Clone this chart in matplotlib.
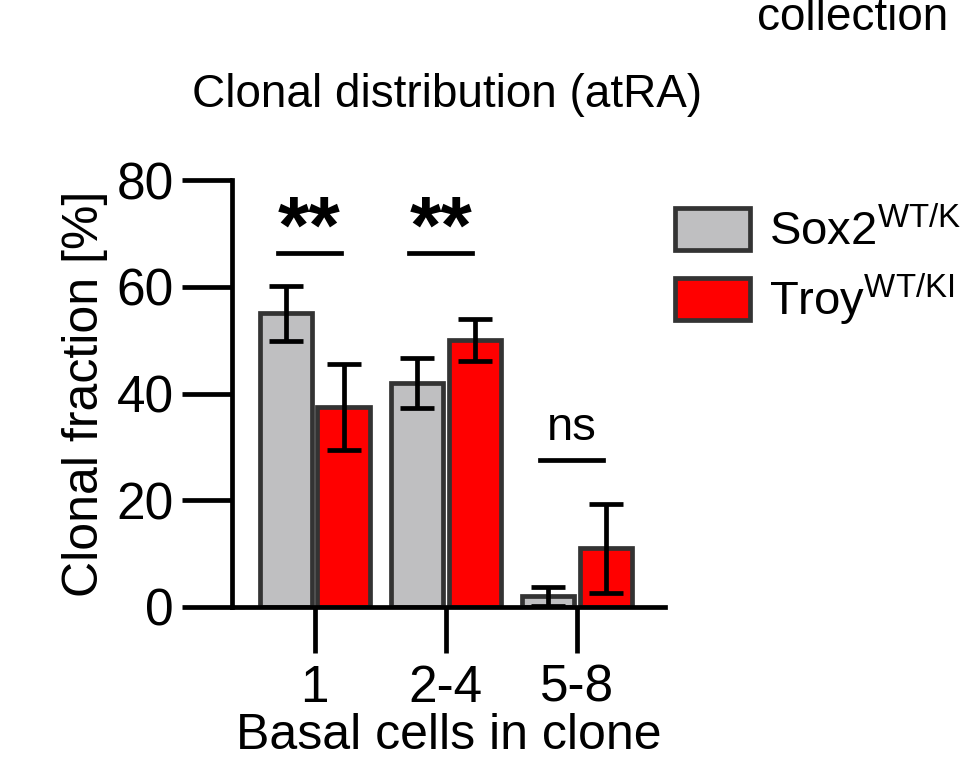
import matplotlib
matplotlib.use("Agg")
from matplotlib import pyplot as plt
import numpy as np

plt.rcParams["font.family"] = "Liberation Sans"

categories = ["1", "2-4", "5-8"]
sox2_mean = [55, 42, 2]
sox2_err = [5.2, 4.7, 1.8]
troy_mean = [37.5, 50, 11]
troy_err = [8, 4, 8.3]
sig_labels = ["**", "**", "ns"]
sig_y = [66.3, 66.3, 27.5]

fig = plt.figure(figsize=(9.6, 7.79), dpi=100)
ax = fig.add_axes([232 / 960, 1 - 607 / 779, (665 - 232) / 960, 427 / 779])

x = np.arange(len(categories))
w = 0.4
off = 0.22
lw = 3.4
ax.bar(x - off, sox2_mean, w, color="#bfbfc1", edgecolor="#333333", linewidth=lw,
       label="Sox2$^{\\mathregular{WT/KI}}$", zorder=2)
ax.bar(x + off, troy_mean, w, color="#ff0000", edgecolor="#333333", linewidth=lw,
       label="Troy$^{\\mathregular{WT/KI}}$", zorder=2)
ax.errorbar(x - off, sox2_mean, yerr=sox2_err, fmt="none", ecolor="black",
            elinewidth=lw, capsize=12, capthick=lw, zorder=3)
ax.errorbar(x + off, troy_mean, yerr=troy_err, fmt="none", ecolor="black",
            elinewidth=lw, capsize=12, capthick=lw, zorder=3)

for i, (lab, y) in enumerate(zip(sig_labels, sig_y)):
    ax.plot([x[i] - 0.28, x[i] + 0.2], [y, y], color="black", lw=lw)
    if lab == "ns":
        ax.text(x[i] - 0.04, y + 2, lab, ha="center", va="bottom", fontsize=34)
    else:
        ax.text(x[i] - 0.04, y - 3, lab, ha="center", va="bottom", fontsize=58,
                fontweight="bold")

ax.set_xlim(-0.63, 2.67)
ax.set_ylim(0, 80)
ax.set_yticks([0, 20, 40, 60, 80])
ax.set_xticks(x)
ax.set_xticklabels(categories)
ax.tick_params(axis="y", labelsize=37, width=lw, length=36, pad=6)
ax.tick_params(axis="x", labelsize=37, width=lw, length=33, pad=8)
for s in ["top", "right"]:
    ax.spines[s].set_visible(False)
for s in ["left", "bottom"]:
    ax.spines[s].set_linewidth(lw)
ax.set_ylabel("Clonal fraction [%]", fontsize=36, labelpad=6)
ax.set_xlabel("Basal cells in clone", fontsize=36, labelpad=0)

fig.text(447 / 960, 1 - 95 / 779, "Clonal distribution (atRA)", ha="center",
         va="center", fontsize=33)
fig.text(948 / 960, 1 - 18 / 779, "collection", ha="right", va="center", fontsize=33)

leg = fig.legend(loc="upper left", bbox_to_anchor=(632 / 960, 1 - 165 / 779),
                 frameon=False, fontsize=34, handlelength=1.6, handleheight=1.0,
                 handletextpad=0.4, labelspacing=0.35)

fig.savefig("out.png", dpi=100)
